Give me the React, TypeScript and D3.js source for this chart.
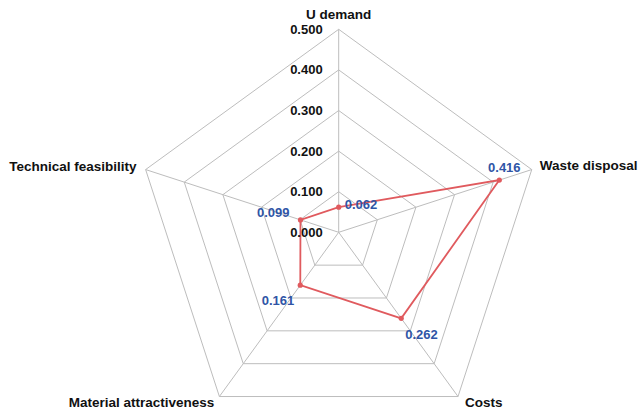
import React from "react";
import * as d3 from "d3";

const categories = ["U demand", "Waste disposal", "Costs", "Material attractiveness", "Technical feasibility"];
const values = [0.062, 0.416, 0.262, 0.161, 0.099];
const tickValues = [0, 0.1, 0.2, 0.3, 0.4, 0.5];
const tickLabels = ["0.000", "0.100", "0.200", "0.300", "0.400", "0.500"];

// layout
const W = 638, H = 412;
const cx = 338.7, cy = 232.3, R = 203;
const catLabelLayout = [
  { dx: 0, dy: -15, anchor: "middle" },
  { dx: 8, dy: -4, anchor: "start" },
  { dx: 7, dy: 6, anchor: "start" },
  { dx: -5, dy: 6, anchor: "end" },
  { dx: -9, dy: -3, anchor: "end" },
];
const valueLabelLayout = [
  { dx: 6, dy: -3, anchor: "start" },
  { dx: 5, dy: -13, anchor: "middle" },
  { dx: 4, dy: 16, anchor: "start" },
  { dx: -6, dy: 15, anchor: "end" },
  { dx: -11, dy: -7, anchor: "end" },
];

const FONT = "Arial, 'Liberation Sans', sans-serif";

export default function App() {
  const r = d3.scaleLinear().domain([0, 0.5]).range([0, R]);
  const angle = d3.scalePoint<string>().domain(categories).range([0, (2 * Math.PI * 4) / 5]);
  const pt = (cat: string, v: number): [number, number] => {
    const a = angle(cat)! - Math.PI / 2;
    return [cx + r(v) * Math.cos(a), cy + r(v) * Math.sin(a)];
  };
  const ringPath = (v: number) =>
    d3.line()(categories.map((c) => pt(c, v)))! + "Z";
  const dataPts = categories.map((c, i) => pt(c, values[i]));
  const dataPath = d3.line()(dataPts)! + "Z";

  return (
    <svg width={W} height={H} style={{ position: "absolute", left: 0, top: 0, background: "#fff" }}>
      <g fill="none" stroke="#bdbdbd" strokeWidth={1}>
        {tickValues.slice(1).map((t) => (
          <path key={t} d={ringPath(t)} />
        ))}
        {categories.map((c) => {
          const [x, y] = pt(c, 0.5);
          return <line key={c} x1={cx} y1={cy} x2={x} y2={y} />;
        })}
      </g>
      <path d={dataPath} fill="none" stroke="#e05a5e" strokeWidth={1.8} />
      {dataPts.map(([x, y], i) => (
        <circle key={i} cx={x} cy={y} r={2.6} fill="#e05a5e" />
      ))}
      <g fontFamily={FONT} fontWeight="bold" fontSize={13} fill="#111">
        {tickValues.map((t, i) => (
          <text key={t} x={cx - 16} y={cy - r(t)} textAnchor="end" dominantBaseline="central">
            {tickLabels[i]}
          </text>
        ))}
      </g>
      <g fontFamily={FONT} fontWeight="bold" fontSize={13.5} fill="#111">
        {categories.map((c, i) => {
          const [x, y] = pt(c, 0.5);
          const L = catLabelLayout[i];
          return (
            <text key={c} x={x + L.dx} y={y + L.dy} textAnchor={L.anchor as any} dominantBaseline="central">
              {c}
            </text>
          );
        })}
      </g>
      <g fontFamily={FONT} fontWeight="bold" fontSize={13} fill="#2f55a6">
        {dataPts.map(([x, y], i) => {
          const L = valueLabelLayout[i];
          return (
            <text key={i} x={x + L.dx} y={y + L.dy} textAnchor={L.anchor as any} dominantBaseline="central">
              {values[i].toFixed(3)}
            </text>
          );
        })}
      </g>
    </svg>
  );
}
